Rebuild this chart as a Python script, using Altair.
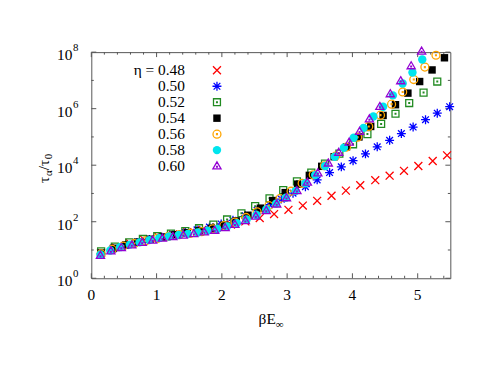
import altair as alt
import pandas as pd

W, H = 362, 228

# ---- data (x = beta*E_inf, logy = log10(tau_alpha/tau_0)) ----
eta_labels = ["η = 0.48", "0.50", "0.52", "0.54", "0.56", "0.58", "0.60"]

x_048 = [0.15, 0.37, 0.59, 0.81, 1.03, 1.25, 1.47, 1.70, 1.92, 2.14, 2.36, 2.58, 2.80,
         3.02, 3.24, 3.46, 3.68, 3.90, 4.12, 4.35, 4.57, 4.79, 5.01, 5.23, 5.45]
logy_048 = [0.90, 1.10, 1.24, 1.36, 1.46, 1.55, 1.63, 1.71, 1.80, 1.90, 2.01, 2.13, 2.27,
            2.42, 2.57, 2.74, 2.92, 3.10, 3.29, 3.47, 3.63, 3.80, 3.97, 4.15, 4.35]

x_050 = [0.15, 0.33, 0.52, 0.70, 0.89, 1.07, 1.25, 1.44, 1.62, 1.81, 1.99, 2.17, 2.36, 2.54,
         2.73, 2.91, 3.09, 3.28, 3.46, 3.65, 3.83, 4.01, 4.20, 4.38, 4.57, 4.75, 4.93, 5.12,
         5.30, 5.49]
logy_050 = [0.87, 1.03, 1.16, 1.27, 1.37, 1.46, 1.54, 1.62, 1.71, 1.81, 1.92, 2.05, 2.21, 2.40,
            2.60, 2.80, 3.01, 3.24, 3.48, 3.74, 3.94, 4.16, 4.40, 4.65, 4.88, 5.12, 5.35, 5.61,
            5.84, 6.07]

x_052 = [0.15, 0.36, 0.58, 0.79, 1.01, 1.22, 1.44, 1.65, 1.87, 2.08, 2.30, 2.51, 2.73, 2.94,
         3.15, 3.37, 3.58, 3.80, 4.01, 4.23, 4.44, 4.66, 4.87, 5.09, 5.30]
logy_052 = [0.95, 1.12, 1.27, 1.39, 1.49, 1.58, 1.67, 1.77, 1.90, 2.08, 2.30, 2.55, 2.83, 3.12,
            3.43, 3.74, 4.06, 4.41, 4.74, 5.10, 5.46, 5.82, 6.20, 6.57, 6.96]

x_054 = [0.15, 0.34, 0.53, 0.71, 0.90, 1.09, 1.28, 1.47, 1.65, 1.84, 2.03, 2.22, 2.40, 2.59,
         2.78, 2.97, 3.16, 3.34, 3.53, 3.72, 3.91, 4.10, 4.28, 4.47, 4.66, 4.85, 5.03, 5.22, 5.41]
logy_054 = [0.89, 1.06, 1.18, 1.28, 1.38, 1.46, 1.54, 1.61, 1.68, 1.77, 1.88, 2.03, 2.23, 2.48,
            2.75, 3.03, 3.33, 3.64, 3.96, 4.30, 4.65, 5.00, 5.37, 5.76, 6.14, 6.55, 6.96, 7.37, 7.80]

x_056 = [0.15, 0.32, 0.49, 0.66, 0.83, 1.01, 1.18, 1.35, 1.52, 1.69, 1.86, 2.03, 2.20, 2.37,
         2.54, 2.72, 2.89, 3.06, 3.23, 3.40, 3.57, 3.74, 3.91, 4.08, 4.25, 4.43, 4.60, 4.77,
         4.94, 5.11, 5.28]
logy_056 = [0.86, 1.02, 1.14, 1.23, 1.32, 1.41, 1.48, 1.54, 1.59, 1.65, 1.75, 1.86, 1.99, 2.15,
            2.35, 2.57, 2.82, 3.08, 3.36, 3.66, 3.98, 4.32, 4.64, 4.99, 5.37, 5.77, 6.16, 6.59,
            7.03, 7.47, 7.89]

x_058 = [0.14, 0.29, 0.44, 0.59, 0.74, 0.89, 1.04, 1.19, 1.34, 1.48, 1.63, 1.78, 1.93, 2.08,
         2.23, 2.38, 2.53, 2.68, 2.83, 2.98, 3.13, 3.28, 3.43, 3.58, 3.73, 3.87, 4.02, 4.17,
         4.32, 4.47, 4.62, 4.77, 4.92, 5.07]
logy_058 = [0.83, 0.98, 1.10, 1.19, 1.27, 1.35, 1.42, 1.48, 1.53, 1.57, 1.62, 1.68, 1.74, 1.83,
            1.95, 2.08, 2.24, 2.43, 2.64, 2.85, 3.09, 3.36, 3.65, 3.97, 4.30, 4.62, 4.97, 5.32,
            5.72, 6.07, 6.47, 6.89, 7.28, 7.74]

x_060 = [0.14, 0.30, 0.46, 0.62, 0.78, 0.94, 1.09, 1.25, 1.41, 1.57, 1.73, 1.89, 2.05, 2.20,
         2.36, 2.52, 2.68, 2.84, 2.99, 3.15, 3.31, 3.47, 3.63, 3.79, 3.95, 4.11, 4.26, 4.42,
         4.58, 4.74, 4.90, 5.06]
logy_060 = [0.80, 0.96, 1.08, 1.17, 1.26, 1.34, 1.41, 1.47, 1.52, 1.57, 1.63, 1.69, 1.78, 1.90,
            2.03, 2.19, 2.39, 2.62, 2.84, 3.09, 3.39, 3.72, 4.07, 4.45, 4.81, 5.19, 5.63, 6.07,
            6.52, 6.98, 7.51, 8.03]

x_major = [0, 1, 2, 3, 4, 5]
x_major_labels = ["0", "1", "2", "3", "4", "5"]
x_minor = [0.2, 0.4, 0.6, 0.8, 1.2, 1.4, 1.6, 1.8, 2.2, 2.4, 2.6, 2.8, 3.2, 3.4, 3.6, 3.8,
           4.2, 4.4, 4.6, 4.8, 5.2, 5.4]
y_major = [1, 1e2, 1e4, 1e6, 1e8]
y_major_exp = ["0", "2", "4", "6", "8"]
y_minor = [1e1, 1e3, 1e5, 1e7]

FONT = "Liberation Serif"
FS = 15.5
xs = alt.Scale(domain=[0, 5.5], nice=False, zero=False)
ys = alt.Scale(type="log", domain=[1, 1e8], nice=False)

DOT = "M-0.1,-0.1L0.1,-0.1L0.1,0.1L-0.1,0.1Z"
SH_CROSS = "M-1,-1L1,1M-1,1L1,-1"
SH_STAR = "M-1,0L1,0M0,-1L0,1M-0.75,-0.75L0.75,0.75M-0.75,0.75L0.75,-0.75"
SH_SQ = "M-1,-1L1,-1L1,1L-1,1Z"
SH_SQ_DOT = SH_SQ + DOT
SH_CIRC_DOT = "M1,0A1,1,0,1,1,-1,0A1,1,0,1,1,1,0Z" + DOT
SH_TRI_DOT = "M0,-1.15L1.1,0.75L-1.1,0.75Z" + "M-0.1,0.05L0.1,0.05L0.1,0.25L-0.1,0.25Z"

series = [
    dict(x=x_048, ly=logy_048, color="#ff0000", shape=SH_CROSS, filled=False, size=64),
    dict(x=x_050, ly=logy_050, color="#0000ff", shape=SH_STAR, filled=False, size=81),
    dict(x=x_052, ly=logy_052, color="#228b22", shape=SH_SQ_DOT, filled=False, size=49),
    dict(x=x_054, ly=logy_054, color="#000000", shape=SH_SQ, filled=True, size=56),
    dict(x=x_056, ly=logy_056, color="#ffa500", shape=SH_CIRC_DOT, filled=False, size=64),
    dict(x=x_058, ly=logy_058, color="#00e5ee", shape="circle", filled=True, size=72),
    dict(x=x_060, ly=logy_060, color="#9400d3", shape=SH_TRI_DOT, filled=False, size=56),
]

layers = []

def xticks(vals, length):
    d = pd.DataFrame({"v": vals})
    b = alt.Chart(d).mark_rule(color="#555555", strokeWidth=1).encode(
        x=alt.X("v:Q", scale=xs, axis=None), y=alt.value(H), y2=alt.value(H - length))
    t = alt.Chart(d).mark_rule(color="#555555", strokeWidth=1).encode(
        x=alt.X("v:Q", scale=xs, axis=None), y=alt.value(0), y2=alt.value(length))
    return [b, t]

def yticks(vals, length):
    d = pd.DataFrame({"v": vals})
    l = alt.Chart(d).mark_rule(color="#555555", strokeWidth=1).encode(
        y=alt.Y("v:Q", scale=ys, axis=None), x=alt.value(0), x2=alt.value(length))
    r = alt.Chart(d).mark_rule(color="#555555", strokeWidth=1).encode(
        y=alt.Y("v:Q", scale=ys, axis=None), x=alt.value(W), x2=alt.value(W - length))
    return [l, r]

layers += xticks(x_major, 5) + xticks(x_minor, 2.5) + yticks(y_major, 5) + yticks(y_minor, 2.5)

xl = pd.DataFrame({"v": x_major, "lab": x_major_labels})
layers.append(alt.Chart(xl).mark_text(font=FONT, fontSize=FS, baseline="middle", align="center").encode(
    x=alt.X("v:Q", scale=xs, axis=None), y=alt.value(H + 17), text="lab:N"))
yl = pd.DataFrame({"v": y_major, "e": y_major_exp})
layers.append(alt.Chart(yl).mark_text(font=FONT, fontSize=FS, baseline="middle", align="right", dy=3).encode(
    y=alt.Y("v:Q", scale=ys, axis=None), x=alt.value(-19), text=alt.value("10")))
layers.append(alt.Chart(yl).mark_text(font=FONT, fontSize=11, baseline="middle", align="left", dy=-4).encode(
    y=alt.Y("v:Q", scale=ys, axis=None), x=alt.value(-18.5), text="e:N"))

one = pd.DataFrame({"a": [0]})

def txt(s, x, y, fs=FS, align="left", baseline="alphabetic", angle=0):
    return alt.Chart(one).mark_text(font=FONT, fontSize=fs, align=align, baseline=baseline, angle=angle).encode(
        x=alt.value(x), y=alt.value(y), text=alt.value(s))

# x axis title  "βE∞"
layers.append(txt("βE", 186, 274, align="right"))
layers.append(txt("∞", 186, 278, fs=11, align="left"))

# y axis title  "τα/τ0" (rotated)
ox = -43
y0 = 132
layers.append(txt("τ", ox, y0, angle=270))
layers.append(txt("α", ox + 3, y0 - 7, fs=11, angle=270))
layers.append(txt("/τ", ox, y0 - 13, angle=270))
layers.append(txt("0", ox + 3, y0 - 24, fs=11, angle=270))

for s in series:
    df = pd.DataFrame({"x": s["x"], "y": [10 ** v for v in s["ly"]]})
    layers.append(alt.Chart(df).mark_point(
        shape=s["shape"], filled=s["filled"], size=s["size"], color=s["color"],
        strokeWidth=1.3, opacity=1, clip=False).encode(
        x=alt.X("x:Q", scale=xs, axis=None), y=alt.Y("y:Q", scale=ys, axis=None)))

for i, (lab, s) in enumerate(zip(eta_labels, series)):
    yy = 18.3 + 16.1 * i
    layers.append(txt(lab, 94.4, yy, align="right", baseline="middle"))
    layers.append(alt.Chart(one).mark_point(
        shape=s["shape"], filled=s["filled"], size=s["size"], color=s["color"],
        strokeWidth=1.3, opacity=1).encode(x=alt.value(126.7), y=alt.value(yy)))

chart = alt.layer(*layers).properties(
    width=W, height=H,
    padding={"left": 84, "top": 43, "right": 40, "bottom": 90},
    autosize=alt.AutoSizeParams(type="none"),
).configure_view(stroke="#555555", strokeWidth=1)

chart.save("out.html", embed_options={"renderer": "svg", "actions": False})
